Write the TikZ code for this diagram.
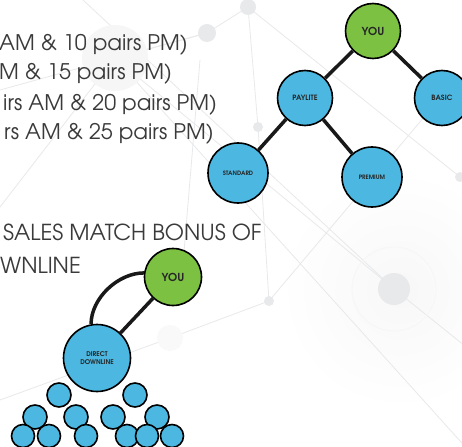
\documentclass[tikz,border=0pt]{standalone}
\usepackage{fontspec}
\setmainfont{TeX Gyre Adventor}
\usepackage{tikz}
\usetikzlibrary{automata,positioning}
\definecolor{tgreen}{RGB}{124,193,66}
\definecolor{tblue}{RGB}{76,184,225}
\definecolor{tgray}{RGB}{58,58,58}
\definecolor{netgray}{RGB}{232,233,235}
\tikzset{every state/.style={circle,draw=black,line width=1.6pt,inner sep=0pt,text=black!85}}
\tikzset{link/.style={line width=3.5pt,black!90}}
\tikzset{net/.style={line width=0.8pt,netgray}}
\tikzset{heading/.style={anchor=base west,inner sep=0pt,text=tgray,font=\fontsize{21.5}{22}\selectfont}}

\begin{document}
\begin{tikzpicture}[x=1pt,y=-1pt,on grid,node distance=2cm]
    \useasboundingbox (0,0) rectangle (462,446);
    \clip (0,0) rectangle (462,446);
    \fill[white] (0,0) rectangle (462,446);
    % faint network in the back
    \shade[inner color=gray!6,outer color=white] (400,290) circle (120);
    \draw[net] (115,58) -- (207,33) -- (248,7) -- (258,127) -- (269,301) -- (170,338) -- (0,400);
    \draw[net] (115,58) -- (-10,220);
    \draw[net] (115,58) -- (394,289) -- (470,350);
    \draw[net] (83,0) -- (394,289);
    \draw[net] (115,58) -- (470,452);
    \draw[net] (269,301) -- (430,110);
    \draw[net] (248,7) -- (460,177);
    \draw[net] (207,33) -- (0,90);
    \draw[net] (200,60) -- (180,300);
    \fill[gray!7] (115,58) circle (33);
    \fill[netgray] (207,33) circle (9);
    \fill[netgray] (248,7) circle (8);
    \fill[netgray] (258,127) circle (5);
    \fill[netgray] (269,301) circle (5);
    \fill[netgray] (460,177) circle (5);
    \fill[gray!5] (170,338) circle (13);
    \draw[gray!7,line width=0.8pt] (394,289) circle (42);
    \fill[netgray] (394,289) circle (16);

    % text
    \node[heading] (l1) at (-1,51) {AM \& 10 pairs PM)};
    \node[heading] (l2) at (-1,80) {M \& 15 pairs PM)};
    \node[heading] (l3) at (3,111) {irs AM \& 20 pairs PM)};
    \node[heading] (l4) at (4,140) {rs AM \& 25 pairs PM)};
    \node[heading,font=\fontsize{22}{22}\selectfont] (l5) at (3,240) {SALES MATCH BONUS OF};
    \node[heading,font=\fontsize{22}{22}\selectfont] (l6) at (0,273) {WNLINE};

    % plan tree
    \tikzset{every node/.append style={font=\bfseries\fontsize{7.3}{8}\selectfont}}
    \node[state,fill=tgreen,minimum size=55pt] (you1) at (373,31) {\fontsize{11}{11}\selectfont YOU};
    \node[state,fill=tblue,minimum size=55pt] (paylite) [below left=67pt and 68pt of you1] {PAYLITE};
    \node[state,fill=tblue,minimum size=55pt] (basic) [below right=67pt and 69pt of you1] {BASIC};
    \node[state,fill=tblue,minimum size=60pt] (standard) [below left=75pt and 67pt of paylite] {\fontsize{6}{6}\selectfont STANDARD};
    \node[state,fill=tblue,minimum size=60pt] (premium) [below right=79pt and 67pt of paylite] {\fontsize{6}{6}\selectfont PREMIUM};
    \path[link]
        (you1) edge (paylite)
        (you1) edge (basic)
        (paylite) edge (standard)
        (paylite) edge (premium)
    ;

    % match tree
    \node[state,fill=tgreen,minimum size=57pt] (you2) at (173,277) {\fontsize{11}{11}\selectfont YOU};
    \node[state,fill=tblue,minimum size=67pt,align=center] (direct) [below left=81pt and 76pt of you2] {\fontsize{6.5}{9}\selectfont DIRECT\\\fontsize{6.5}{9}\selectfont DOWNLINE};
    \path[link]
        (you2) edge (direct)
        (you2.172) edge[out=180,in=90,looseness=0.9] (direct.100)
    ;
    \foreach \x/\y [count=\i] in {59/395,135/395,35/417,76/417,113/417,157/417}
        \node[state,fill=tblue,minimum size=24pt] (d\i) at (\x,\y) {};
    \foreach \x/\y [count=\i from 7] in {23/436,49/436,86/436,127/436,147/436,172/436}
        \node[state,fill=tblue,minimum size=23pt] (d\i) at (\x,\y) {};
\end{tikzpicture}
\end{document}
